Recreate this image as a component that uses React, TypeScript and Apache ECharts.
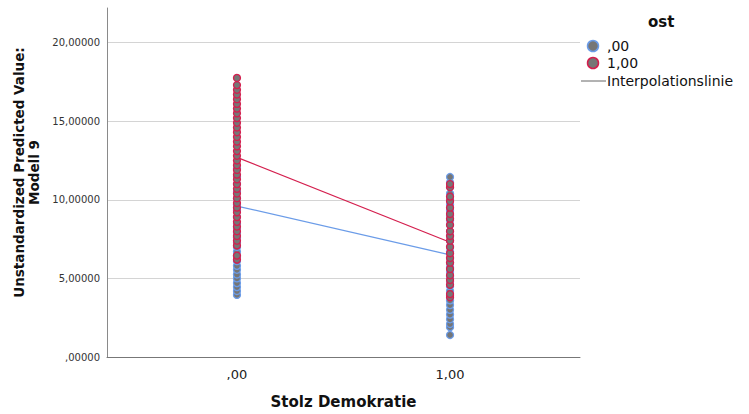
import React, { useEffect, useRef } from "react";
import * as echarts from "echarts";

// ost = ,00 (blue outline) and ost = 1,00 (red outline)
const xCategories = [0, 1];
const xTickLabels = [",00", "1,00"];
const yTicks = [0, 5, 10, 15, 20];

const ost0AtX0 = [3.95, 4.2, 4.45, 4.7, 5.0, 5.25, 5.55, 5.8, 6.1, 6.4, 6.7, 7.0, 7.3, 7.6, 7.9, 8.2, 8.5, 8.9, 9.3, 9.7, 10.1, 10.5, 11.0, 11.5, 12.0];
const ost1AtX0 = [6.2, 6.45, 7.1, 7.4, 7.7, 8.0, 8.3, 8.6, 8.9, 9.2, 9.5, 9.8, 10.1, 10.4, 10.7, 11.0, 11.3, 11.6, 11.9, 12.2, 12.5, 12.8, 13.1, 13.4, 13.7, 14.0, 14.3, 14.6, 14.9, 15.2, 15.5, 15.8, 16.1, 16.4, 16.7, 17.0, 17.3, 17.75];
const ost0AtX1 = [1.4, 1.9, 2.1, 2.4, 2.7, 3.0, 3.3, 3.6, 3.9, 4.2, 4.5, 4.8, 5.1, 5.4, 5.7, 6.0, 6.3, 6.7, 7.0, 7.4, 7.7, 8.0, 8.4, 8.7, 9.0, 9.3, 9.7, 10.0, 10.4, 10.8, 11.1, 11.45];
const ost1AtX1 = [3.8, 4.0, 4.6, 4.9, 5.2, 5.6, 6.0, 6.3, 6.6, 7.0, 7.4, 7.7, 8.0, 8.4, 8.8, 9.1, 9.5, 9.9, 10.2, 10.8, 11.0];
const fitOst0 = [9.6, 6.5];
const fitOst1 = [12.7, 7.3];

const legendTitle = "ost";
const legendLabels = [",00", "1,00", "Interpolationslinie"];

const BLUE = "#6b9ce8";
const RED = "#d41f4e";
const GREY_FILL = "#767676";

const fmtY = (v: number) => {
  const s = v.toFixed(5).replace(".", ",");
  return s.startsWith("0,") ? s.slice(1) : s;
};

export default function App() {
  const ref = useRef<HTMLDivElement>(null);
  useEffect(() => {
    if (!ref.current) return;
    const chart = echarts.init(ref.current, null, { renderer: "svg" });
    const pts = (x: number, arr: number[]) => arr.map((v) => [x, v]);
    const fit = (arr: number[]) => arr.map((v, i) => [xCategories[i], v]);
    const font = "DejaVu Sans";
    chart.setOption({
      animation: false,
      grid: { left: 107, right: 169, top: 8, bottom: 56 },
      xAxis: {
        type: "value",
        min: -0.61,
        max: 1.61,
        interval: 0.01,
        splitLine: { show: false },
        axisLine: { show: true, onZero: false, lineStyle: { color: "#777", width: 1 } },
        axisTick: { show: false },
        axisLabel: {
          customValues: xCategories,
          formatter: (v: number) => xTickLabels[xCategories.indexOf(v)] ?? "",
          fontFamily: font,
          fontSize: 13,
          color: "#222",
          margin: 11,
        },
        name: "Stolz Demokratie",
        nameLocation: "middle",
        nameGap: 37,
        nameTextStyle: { fontFamily: font, fontSize: 15, fontWeight: "bold", color: "#111" },
      },
      yAxis: {
        type: "value",
        min: 0,
        max: 22.2,
        interval: 5,
        axisLine: { show: true, onZero: false, lineStyle: { color: "#8a8a8a", width: 1 } },
        axisTick: { show: false },
        splitLine: { show: true, showMinLine: false, showMaxLine: false, lineStyle: { color: "#d4d4d4", width: 1 } },
        axisLabel: {
          customValues: yTicks,
          formatter: (v: number) => fmtY(v),
          fontFamily: font,
          fontSize: 10,
          color: "#333",
          margin: 7,
        },
        name: "Unstandardized Predicted Value:\nModell 9",
        nameLocation: "middle",
        nameGap: 66,
        nameRotate: 90,
        nameTextStyle: {
          fontFamily: font,
          fontSize: 13.5,
          fontWeight: "bold",
          color: "#111",
          lineHeight: 15,
          padding: [0, 0, 0, 20],
        },
      },
      series: [
        { type: "line", data: fit(fitOst0), symbol: "none", lineStyle: { color: BLUE, width: 1.2 }, z: 1 },
        { type: "line", data: fit(fitOst1), symbol: "none", lineStyle: { color: RED, width: 1.2 }, z: 1 },
        {
          type: "scatter",
          data: [...pts(0, ost0AtX0), ...pts(1, ost0AtX1)],
          symbolSize: 7,
          itemStyle: { color: GREY_FILL, borderColor: BLUE, borderWidth: 1.3, opacity: 1 },
          z: 2,
        },
        {
          type: "scatter",
          data: [...pts(0, ost1AtX0), ...pts(1, ost1AtX1)],
          symbolSize: 7,
          itemStyle: { color: GREY_FILL, borderColor: RED, borderWidth: 1.3, opacity: 1 },
          z: 3,
        },
      ],
      graphic: [
        {
          type: "text",
          left: 648,
          top: 14,
          style: { text: legendTitle, fontFamily: font, fontSize: 15, fontWeight: "bold", fill: "#111" },
        },
        { type: "circle", shape: { cx: 593, cy: 46, r: 5.5 }, style: { fill: GREY_FILL, stroke: BLUE, lineWidth: 1.5 } },
        { type: "circle", shape: { cx: 593, cy: 63, r: 5.5 }, style: { fill: GREY_FILL, stroke: RED, lineWidth: 1.5 } },
        { type: "line", shape: { x1: 581, y1: 81, x2: 606, y2: 81 }, style: { stroke: "#666", lineWidth: 1 } },
        {
          type: "text",
          x: 607,
          y: 46,
          style: { text: legendLabels[0], fontFamily: font, fontSize: 14, fill: "#111", verticalAlign: "middle" },
        },
        {
          type: "text",
          x: 607,
          y: 63,
          style: { text: legendLabels[1], fontFamily: font, fontSize: 14, fill: "#111", verticalAlign: "middle" },
        },
        {
          type: "text",
          x: 607,
          y: 81,
          style: { text: legendLabels[2], fontFamily: font, fontSize: 14, fill: "#111", verticalAlign: "middle" },
        },
      ],
    });
    return () => chart.dispose();
  }, []);
  return <div ref={ref} style={{ width: 749, height: 414, position: "absolute", left: 0, top: 0 }} />;
}
